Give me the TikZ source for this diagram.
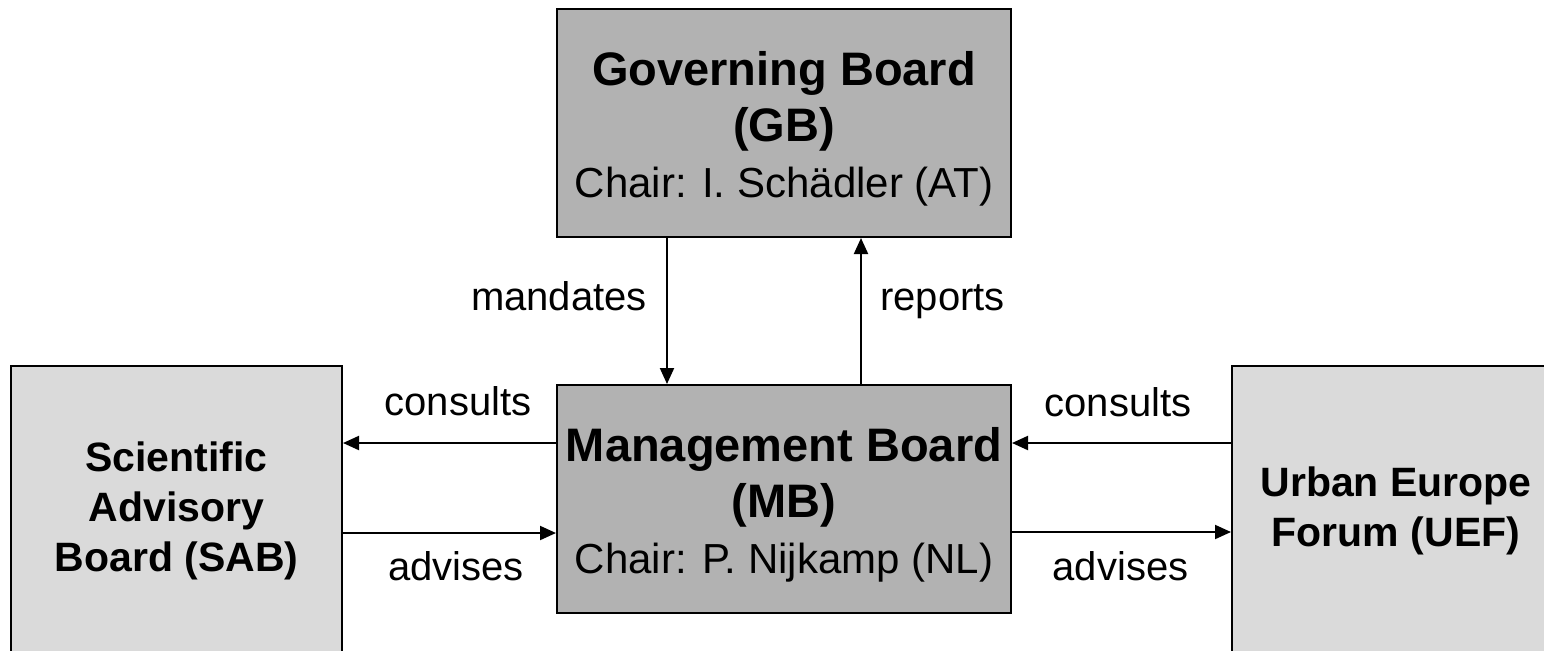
\documentclass[tikz,border=0pt]{standalone}
\usepackage{fontspec}
\setmainfont{Liberation Sans}
\usetikzlibrary{arrows.meta}
\definecolor{darkbox}{gray}{0.70}
\definecolor{lightbox}{gray}{0.855}
\begin{document}
\begin{tikzpicture}[x=0.5pt,y=-0.5pt,
  mainbox/.style={draw=black, line width=1pt, fill=darkbox, minimum width=227pt, minimum height=114pt, inner sep=0pt, align=center, font=\fontsize{23.5}{28}\selectfont\bfseries},
  sidebox/.style={draw=black, line width=1pt, fill=lightbox, minimum height=144.5pt, inner sep=0pt, align=center, font=\fontsize{20.5}{25}\selectfont\bfseries},
  conn/.style={line width=1pt, -{Triangle[length=8pt,width=7pt]}},
  lbl/.style={font=\fontsize{20}{24}\selectfont, anchor=base, inner sep=0pt}]
\useasboundingbox (0,0) rectangle (1544,650);
\clip (0,0) rectangle (1544,650);
\node[mainbox] (GB) at (784,123) {\rule{0pt}{23.2pt}Governing Board\\(GB)\\\normalfont\fontsize{21}{26}\selectfont Chair: I. Schädler (AT)};
\node[mainbox] (MB) at (784,499) {\rule{0pt}{23pt}Management Board\\(MB)\\\normalfont\fontsize{21}{26}\selectfont Chair: P. Nijkamp (NL)};
\node[sidebox, minimum width=165.5pt] (SAB) at (176.5,510.5) {Scientific\\Advisory\\Board (SAB)};
\node[sidebox, minimum width=164pt] (UEF) at (1396,510.5) {Urban Europe\\Forum (UEF)};
\draw[conn] ([xshift=-58.5pt]GB.south) -- ([xshift=-58.5pt]MB.north);
\draw[conn] ([xshift=38.5pt]MB.north) -- ([xshift=38.5pt]GB.south);
\draw[conn] ([yshift=28pt]MB.west) -- ([yshift=28pt]MB.west -| SAB.east);
\draw[conn] ([yshift=-17pt]MB.west -| SAB.east) -- ([yshift=-17pt]MB.west);
\draw[conn] ([yshift=28pt]MB.east -| UEF.west) -- ([yshift=28pt]MB.east);
\draw[conn] ([yshift=-16.5pt]MB.east) -- ([yshift=-16.5pt]MB.east -| UEF.west);
\node[lbl] (lmand) at (559,310) {mandates};
\node[lbl] (lrep) at (942.5,310) {reports};
\node[lbl] (lcons1) at (458,415) {consults};
\node[lbl] (ladv1) at (456,580) {advises};
\node[lbl] (lcons2) at (1118,416) {consults};
\node[lbl] (ladv2) at (1120.5,580) {advises};
\end{tikzpicture}
\end{document}
